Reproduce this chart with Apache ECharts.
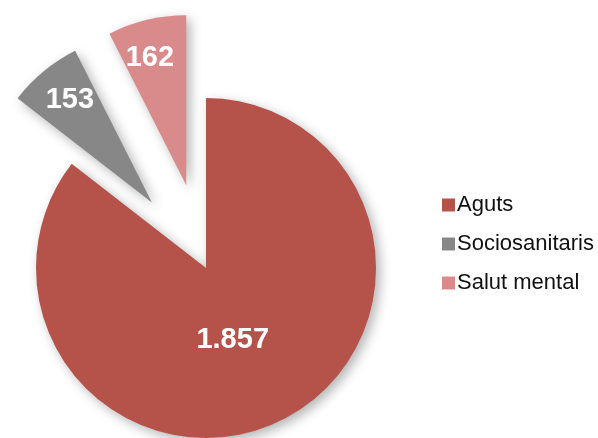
<!DOCTYPE html>
<html>
<head>
<meta charset="utf-8">
<script src="https://cdn.jsdelivr.net/npm/echarts@6/dist/echarts.min.js"></script>
<style>html,body{margin:0;padding:0;background:#fff;}#c{width:598px;height:438px;}</style>
</head>
<body>
<div id="c"></div>
<script>
const categories = ['Aguts', 'Sociosanitaris', 'Salut mental'];
const values = [1857, 153, 162];
const valueLabels = ['1.857', '153', '162'];
const exploded = [false, true, true];

const colors = ['#b5524a', '#878787', '#d98a8b'];
const labelShift = [[-12, -7], [-26, -35], [-16, -42]];

const chart = echarts.init(document.getElementById('c'), null, {renderer: 'canvas'});
chart.setOption({
  backgroundColor: '#ffffff',
  animation: false,
  legend: {
    orient: 'vertical',
    left: 437,
    top: 189,
    itemWidth: 13,
    itemHeight: 13,
    itemGap: 17,
    icon: 'rect',
    textStyle: {fontFamily: 'Liberation Sans, Arial, sans-serif', fontSize: 22, color: '#111', padding: [0, 0, 0, -3]},
    data: categories
  },
  series: [{
    type: 'pie',
    center: [206, 268],
    radius: [0, 170],
    startAngle: 90,
    clockwise: true,
    selectedMode: 'multiple',
    selectedOffset: 85,
    avoidLabelOverlap: false,
    labelLine: {show: false},
    emphasis: {disabled: true},
    itemStyle: {shadowBlur: 12, shadowColor: 'rgba(0,0,0,0.3)', shadowOffsetX: 4, shadowOffsetY: 4},
    labelLayout: function (p) {
      const s = labelShift[p.dataIndex];
      return {dx: s[0], dy: s[1]};
    },
    data: categories.map((name, i) => ({
      name: name,
      value: values[i],
      selected: exploded[i],
      itemStyle: {color: colors[i]},
      label: {
        show: true,
        position: 'inside',
        formatter: valueLabels[i],
        color: '#ffffff',
        fontFamily: 'Liberation Sans, Arial, sans-serif',
        fontWeight: 'bold',
        fontSize: 29
      }
    }))
  }]
});
</script>
</body>
</html>
